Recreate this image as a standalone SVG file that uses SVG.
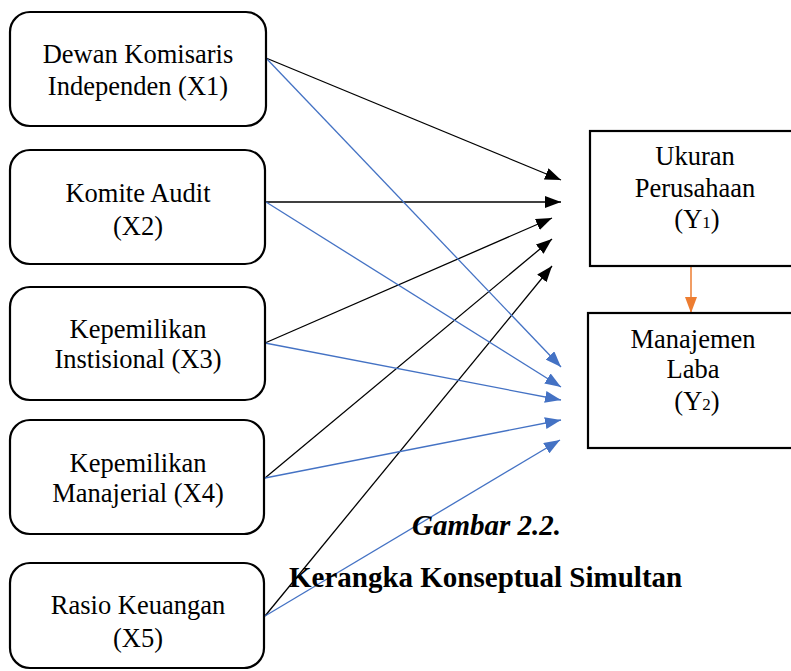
<svg xmlns="http://www.w3.org/2000/svg" width="791" height="671" viewBox="0 0 791 671">
<style>
.node{fill:#fff;stroke:#000;stroke-width:2.2}
.t{font-family:"Liberation Serif","Times New Roman",serif;font-size:26.5px;fill:#000;text-anchor:middle}
.sub{font-size:17px}
.blk{stroke:#000;stroke-width:1.3;fill:none}
.blu{stroke:#4472C4;stroke-width:1.3;fill:none}
.org{stroke:#ED7D31;stroke-width:1.5;fill:none}
.cap{font-family:"Liberation Serif","Times New Roman",serif;font-size:29px;font-weight:bold;fill:#000}
</style>
<defs>
<marker id="ab" viewBox="0 0 16 12" refX="16" refY="6" markerWidth="16" markerHeight="12" markerUnits="userSpaceOnUse" orient="auto"><path d="M0,0 L16,6 L0,12 z" fill="#000"/></marker>
<marker id="au" viewBox="0 0 16 12" refX="16" refY="6" markerWidth="16" markerHeight="12" markerUnits="userSpaceOnUse" orient="auto"><path d="M0,0 L16,6 L0,12 z" fill="#4472C4"/></marker>
<marker id="ao" viewBox="0 0 16 12" refX="16" refY="6" markerWidth="16" markerHeight="14" markerUnits="userSpaceOnUse" orient="auto"><path d="M0,0 L16,6 L0,12 z" fill="#ED7D31"/></marker>
</defs>
<rect width="791" height="671" fill="#fff"/>
<g id="connectors">
<line class="blk" x1="266" y1="58" x2="561" y2="180" marker-end="url(#ab)"/>
<line class="blk" x1="266" y1="202" x2="561" y2="202" marker-end="url(#ab)"/>
<line class="blk" x1="265" y1="343" x2="552" y2="218" marker-end="url(#ab)"/>
<line class="blk" x1="265" y1="478" x2="552" y2="239" marker-end="url(#ab)"/>
<line class="blk" x1="265" y1="616" x2="552" y2="266" marker-end="url(#ab)"/>
<line class="blu" x1="266" y1="58" x2="561" y2="367" marker-end="url(#au)"/>
<line class="blu" x1="266" y1="202" x2="561" y2="387" marker-end="url(#au)"/>
<line class="blu" x1="265" y1="343" x2="561" y2="400" marker-end="url(#au)"/>
<line class="blu" x1="265" y1="478" x2="561" y2="420" marker-end="url(#au)"/>
<line class="blu" x1="265" y1="616" x2="560" y2="440" marker-end="url(#au)"/>
<line class="org" x1="691" y1="267" x2="691" y2="313" marker-end="url(#ao)"/>
</g>
<g id="x1">
<rect class="node" x="10" y="12" width="256" height="114" rx="20"/>
<text class="t" x="138" y="63">Dewan Komisaris</text>
<text class="t" x="138" y="95">Independen (X1)</text>
</g>
<g id="x2">
<rect class="node" x="10" y="150" width="255" height="114" rx="20"/>
<text class="t" x="138" y="202">Komite Audit</text>
<text class="t" x="138" y="235">(X2)</text>
</g>
<g id="x3">
<rect class="node" x="10" y="287" width="255" height="113" rx="20"/>
<text class="t" x="138" y="338">Kepemilikan</text>
<text class="t" x="138" y="368">Instisional (X3)</text>
</g>
<g id="x4">
<rect class="node" x="10" y="420" width="254" height="114" rx="20"/>
<text class="t" x="138" y="472">Kepemilikan</text>
<text class="t" x="138" y="502">Manajerial (X4)</text>
</g>
<g id="x5">
<rect class="node" x="10" y="563" width="254" height="105" rx="20"/>
<text class="t" x="138" y="614">Rasio Keuangan</text>
<text class="t" x="138" y="647">(X5)</text>
</g>
<g id="y1">
<rect class="node" x="590" y="131" width="220" height="135"/>
<text class="t" x="695" y="165">Ukuran</text>
<text class="t" x="695" y="197">Perusahaan</text>
<text class="t" x="697" y="228">(Y<tspan class="sub">1</tspan>)</text>
</g>
<g id="y2">
<rect class="node" x="588" y="313" width="222" height="135"/>
<text class="t" x="693" y="348">Manajemen</text>
<text class="t" x="693" y="378">Laba</text>
<text class="t" x="697" y="410">(Y<tspan class="sub">2</tspan>)</text>
</g>
<g id="caption">
<text class="cap" x="412" y="535" font-style="italic">Gambar 2.2.</text>
<text class="cap" x="289" y="587">Kerangka Konseptual Simultan</text>
</g>
</svg>
